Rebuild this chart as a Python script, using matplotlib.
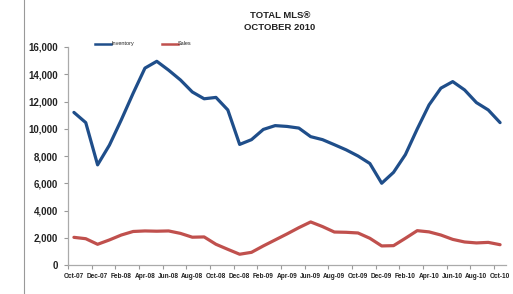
import matplotlib
matplotlib.use("Agg")
import matplotlib.pyplot as plt
from matplotlib.lines import Line2D

months = ["Oct-07","Nov-07","Dec-07","Jan-08","Feb-08","Mar-08","Apr-08","May-08","Jun-08","Jul-08",
          "Aug-08","Sep-08","Oct-08","Nov-08","Dec-08","Jan-09","Feb-09","Mar-09","Apr-09","May-09",
          "Jun-09","Jul-09","Aug-09","Sep-09","Oct-09","Nov-09","Dec-09","Jan-10","Feb-10","Mar-10",
          "Apr-10","May-10","Jun-10","Jul-10","Aug-10","Sep-10","Oct-10"]
inventory = [11200, 10450, 7350, 8800, 10650, 12600, 14450, 14950, 14300, 13580,
             12700, 12200, 12300, 11380, 8850, 9200, 9950, 10230, 10170, 10050,
             9420, 9200, 8830, 8450, 8000, 7450, 6000, 6800, 8100, 9980,
             11750, 12980, 13460, 12850, 11920, 11380, 10450]
sales = [2030, 1930, 1520, 1840, 2200, 2460, 2500, 2480, 2500, 2320,
         2040, 2060, 1520, 1150, 790, 930, 1400, 1840, 2280, 2740,
         3160, 2820, 2420, 2400, 2350, 1960, 1400, 1420, 1960, 2520,
         2430, 2200, 1880, 1690, 1620, 1660, 1490]
yticks = [0, 2000, 4000, 6000, 8000, 10000, 12000, 14000, 16000]

blue = "#1F4E8A"
red = "#C0504D"
font = ["Liberation Sans", "DejaVu Sans"]

fig = plt.figure(figsize=(5.13, 2.94), dpi=100)
ax = fig.add_axes([68/513, 1-265/294, (506-68)/513, (265-47)/294])

x = list(range(len(months)))
ax.plot(x, inventory, color=blue, lw=2.3, solid_joinstyle="round", solid_capstyle="round")
ax.plot(x, sales, color=red, lw=2.3, solid_joinstyle="round", solid_capstyle="round")

ax.set_xlim(-0.5, len(months) - 0.5)
ax.set_ylim(0, 16000)
ax.set_yticks(yticks)
ax.set_yticklabels([f"{v:,}" for v in yticks], fontsize=7.0, fontweight="bold", color="#222222",
                   family=font)

ax.set_xticks(x[::2])
ax.set_xticklabels(months[::2], fontsize=4.7, fontweight="bold", color="#222222", family=font)
ax.tick_params(axis="x", length=0, pad=6)
ax.set_xticks([i - 0.5 for i in range(0, len(months) + 1, 2)], minor=True)
ax.tick_params(axis="x", which="minor", length=3, color="#999999", width=0.8)
ax.tick_params(axis="y", length=3, color="#999999", width=0.8, pad=4)

for s in ["top", "right"]:
    ax.spines[s].set_visible(False)
for s in ["left", "bottom"]:
    ax.spines[s].set_color("#AAAAAA")
    ax.spines[s].set_linewidth(0.9)

fig.text(280/513, 1-15/294, "TOTAL MLS®", ha="center", va="center", fontsize=6.8, fontweight="bold", color="#222222", family=font)
fig.text(280/513, 1-28/294, "OCTOBER 2010", ha="center", va="center", fontsize=6.8, fontweight="bold", color="#222222", family=font)

# legend
fig.add_artist(Line2D([95/513, 111/513], [1-44/294, 1-44/294], color=blue, lw=1.8))
fig.text(111/513, 1-44/294, "Inventory", ha="left", va="center", fontsize=4.0, color="#222222", family=font)
fig.add_artist(Line2D([162/513, 178/513], [1-44/294, 1-44/294], color=red, lw=1.8))
fig.text(178/513, 1-44/294, "Sales", ha="left", va="center", fontsize=4.0, color="#222222", family=font)

# left border line
fig.add_artist(Line2D([23.5/513, 23.5/513], [0, 1], color="#999999", lw=0.8))

fig.savefig("out.png", dpi=100)
